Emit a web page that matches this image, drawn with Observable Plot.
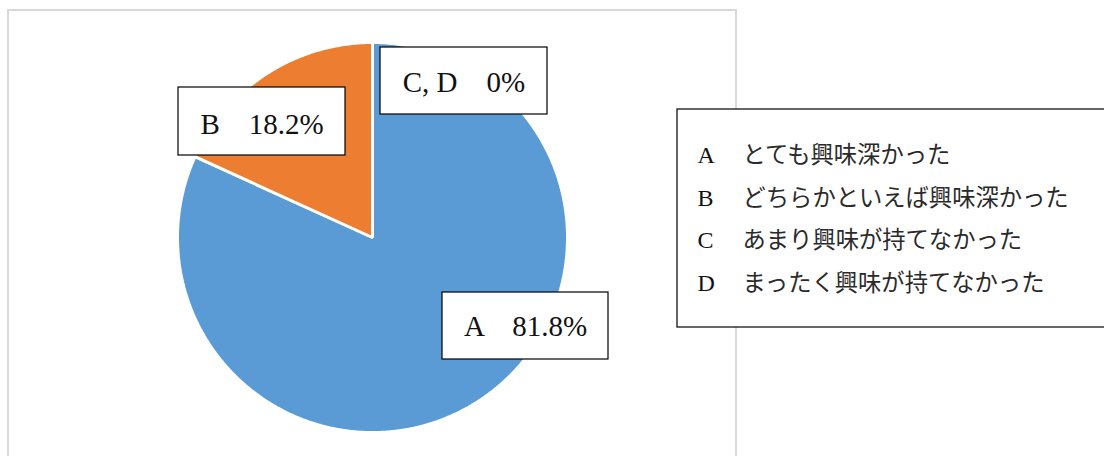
<!DOCTYPE html>
<html>
<head>
<meta charset="utf-8">
<script src="https://cdn.jsdelivr.net/npm/d3@7"></script>
<script src="https://cdn.jsdelivr.net/npm/@observablehq/plot@0.6"></script>
<style>
  html, body { margin: 0; padding: 0; background: #ffffff; }
  #chart svg { display: block; }
</style>
</head>
<body>
<div id="chart"></div>
<script>
// ---- data ----
const categories = ["A", "B", "C", "D"];
const descriptions = ["とても興味深かった", "どちらかといえば興味深かった", "あまり興味が持てなかった", "まったく興味が持てなかった"];
const shares = [81.8, 18.2, 0, 0];
const sliceLabels = ["A\u300081.8%", "B\u300018.2%", "C, D\u30000%"];

// ---- layout / style ----
const W = 1104, H = 456;
const colors = ["#5B9BD5", "#ED7D31", "#A5A5A5", "#FFC000"];
const cx = 372, cy = 237, R = 195;
const labelBoxes = [
  {x1: 442, x2: 608, y1: 292, y2: 359, bx: 525, by: 335},
  {x1: 178, x2: 345, y1: 87, y2: 155, bx: 261.5, by: 133},
  {x1: 380, x2: 547, y1: 47, y2: 114, bx: 463.5, by: 91.5}
];
const legendBox = {x1: 677, x2: 1110, y1: 109, y2: 327};
const legendRows = [162.5, 205, 247.5, 290];
const serif = "'Liberation Serif', 'Noto Sans CJK JP', serif";

// ---- pie slices from shares ----
const total = d3.sum(shares);
const slicePts = [];
let acc = 0;
categories.forEach((c, i) => {
  const a0 = acc / total * 2 * Math.PI;
  acc += shares[i];
  const a1 = acc / total * 2 * Math.PI;
  if (shares[i] <= 0) return;
  slicePts.push({cat: c, x: cx, y: cy});
  const n = Math.max(2, Math.ceil((a1 - a0) / (Math.PI / 360)));
  for (let k = 0; k <= n; k++) {
    const a = a0 + (a1 - a0) * k / n;
    slicePts.push({cat: c, x: cx + R * Math.sin(a), y: cy - R * Math.cos(a)});
  }
});

const labelData = sliceLabels.map((t, i) => ({text: t, ...labelBoxes[i]}));
const legendData = categories.map((c, i) => ({cat: c, desc: descriptions[i], y: legendRows[i]}));

const chart = Plot.plot({
  width: W, height: H,
  margin: 0,
  x: {type: "identity", axis: null},
  y: {type: "identity", axis: null},
  color: {domain: categories, range: colors},
  style: {background: "#ffffff"},
  marks: [
    // outer chart frame
    Plot.rect([{x1: 8, x2: 736, y1: 10, y2: 470}], {x1: "x1", x2: "x2", y1: "y1", y2: "y2", fill: "white", stroke: "#d9d9d9", strokeWidth: 2}),
    // pie slices
    Plot.line(slicePts, {x: "x", y: "y", z: "cat", fill: "cat", stroke: "white", strokeWidth: 3, strokeLinejoin: "miter", curve: "linear-closed"}),
    // data label boxes
    Plot.rect(labelData, {x1: "x1", x2: "x2", y1: "y1", y2: "y2", fill: "white", stroke: "black", strokeWidth: 1.2}),
    Plot.text(labelData, {x: "bx", y: "by", text: "text", fontFamily: serif, fontSize: 29, fill: "#111", textAnchor: "middle", lineAnchor: "bottom"}),
    // legend box
    Plot.rect([legendBox], {x1: "x1", x2: "x2", y1: "y1", y2: "y2", fill: "white", stroke: "black", strokeWidth: 1.2}),
    Plot.text(legendData, {x: () => 697, y: "y", text: "cat", fontFamily: serif, fontSize: 24, fill: "#111", textAnchor: "start", lineAnchor: "bottom"}),
    Plot.text(legendData, {x: () => 742, y: "y", text: "desc", fontFamily: serif, fontSize: 23.3, fill: "#2a2a2a", textAnchor: "start", lineAnchor: "bottom"})
  ]
});
document.getElementById("chart").appendChild(chart);
</script>
</body>
</html>
